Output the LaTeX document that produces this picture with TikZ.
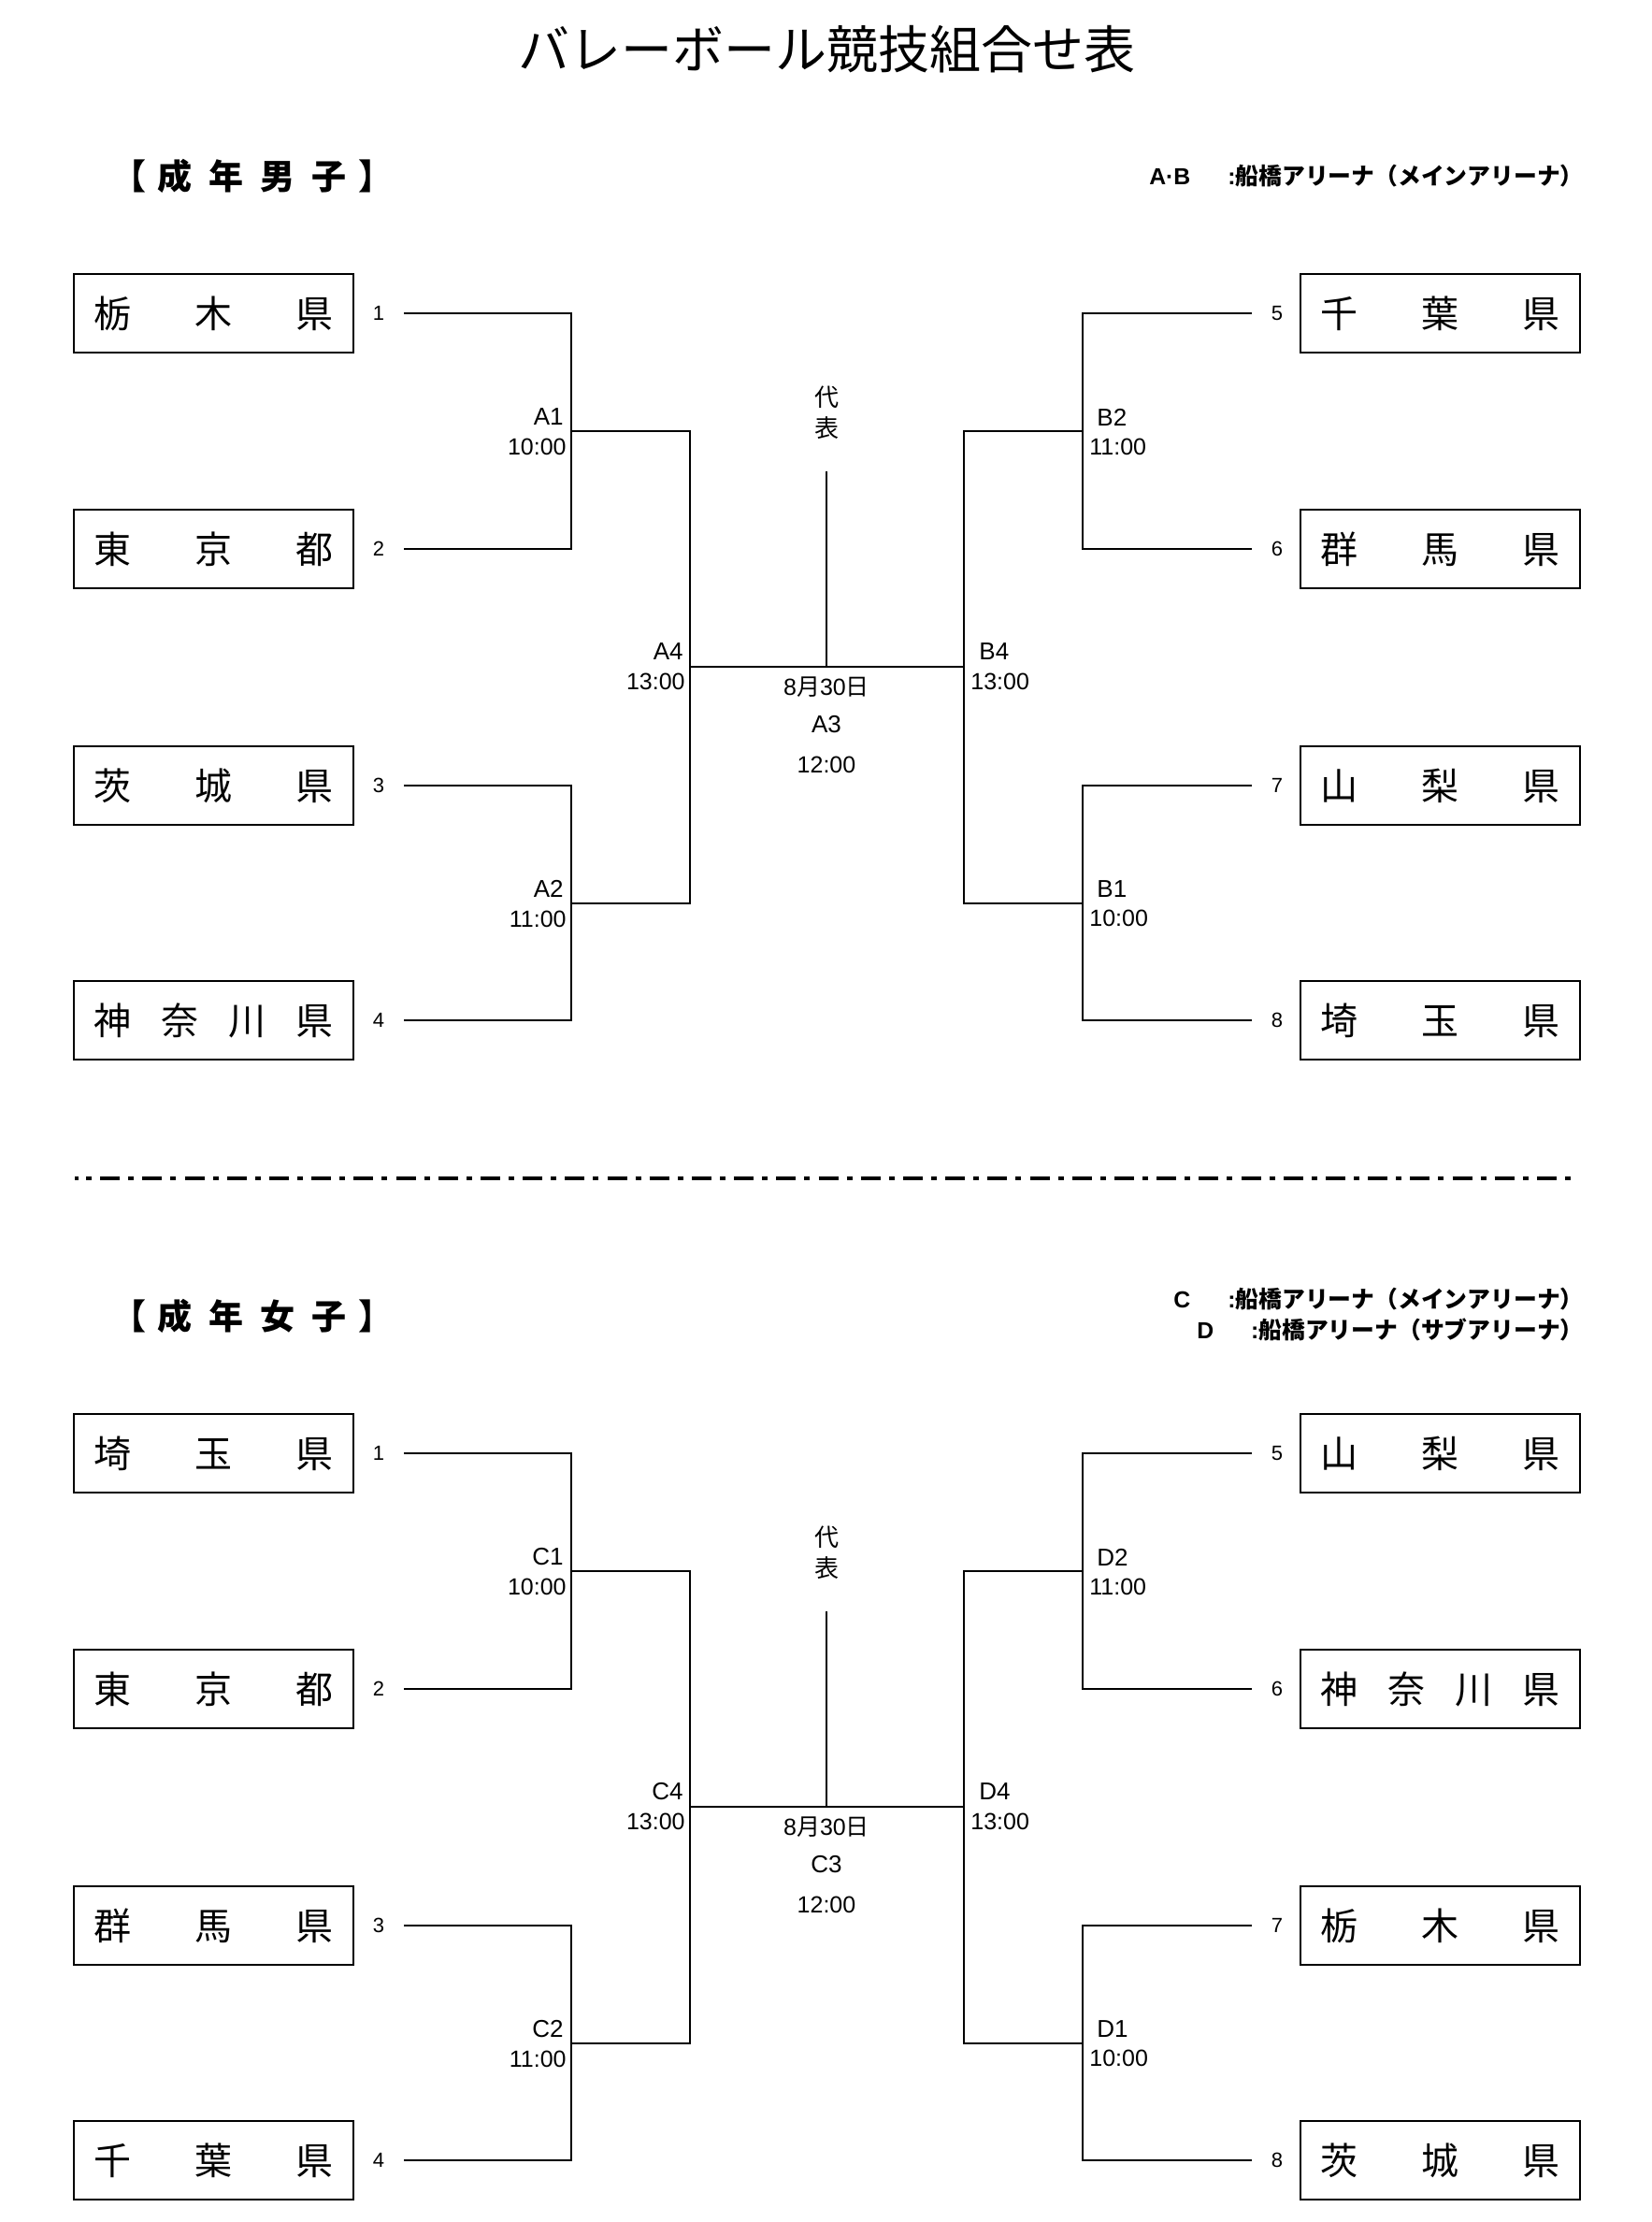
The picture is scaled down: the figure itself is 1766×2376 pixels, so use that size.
\documentclass[tikz,border=0pt]{standalone}
\usepackage{fontspec}
\setmainfont{Liberation Sans}
\newfontfamily\jp{Noto Sans CJK JP}
\newcommand\spread[1]{\makebox[128pt]{#1}}
\tikzset{
  teambox/.style={draw, line width=1pt, minimum width=149.5pt, minimum height=42pt, inner sep=0pt,
    font=\jp\fontsize{20pt}{24pt}\selectfont},
  seednum/.style={inner sep=0pt, font=\fontsize{11pt}{13pt}\selectfont},
  link/.style={line width=1pt},
  mlabel/.style={inner sep=0pt, font=\fontsize{13pt}{15pt}\selectfont},
  mtime/.style={inner sep=0pt, font=\fontsize{12.5pt}{15pt}\selectfont},
  cjksmall/.style={inner sep=0pt, font=\jp\fontsize{13pt}{15pt}\selectfont},
  titletext/.style={inner sep=0pt, font=\jp\fontsize{27.5pt}{33pt}\selectfont},
  hdr/.style={inner sep=0pt, font=\jp\bfseries\fontsize{18.5pt}{22pt}\selectfont},
  venue/.style={inner sep=0pt, anchor=east, font=\bfseries\fontsize{12.4pt}{15pt}\selectfont},
  sepline/.style={line width=2.25pt}
}
\newcommand\bracketsec[9]{%
\begin{scope}[name prefix=#1-]
  % team boxes
  \node[teambox] (t1) at (228.5,335) {\spread{#2}};
  \node[teambox] (t2) at (228.5,587) {\spread{#3}};
  \node[teambox] (t3) at (228.5,840) {\spread{#4}};
  \node[teambox] (t4) at (228.5,1091) {\spread{#5}};
  \node[teambox] (t5) at (1540,335) {\spread{#6}};
  \node[teambox] (t6) at (1540,587) {\spread{#7}};
  \node[teambox] (t7) at (1540,840) {\spread{#8}};
  \node[teambox] (t8) at (1540,1091) {\spread{#9}};
  % seed numbers
  \node[seednum] (n1) at (405,335) {1};
  \node[seednum] (n2) at (405,587) {2};
  \node[seednum] (n3) at (405,840) {3};
  \node[seednum] (n4) at (405,1091) {4};
  \node[seednum] (n5) at (1366,335) {5};
  \node[seednum] (n6) at (1366,587) {6};
  \node[seednum] (n7) at (1366,840) {7};
  \node[seednum] (n8) at (1366,1091) {8};
  % bracket points
  \coordinate (s1) at (432,335);
  \coordinate (s2) at (432,587);
  \coordinate (s3) at (432,840);
  \coordinate (s4) at (432,1091);
  \coordinate (s5) at (1339,335);
  \coordinate (s6) at (1339,587);
  \coordinate (s7) at (1339,840);
  \coordinate (s8) at (1339,1091);
  \coordinate (q1) at (611,461);
  \coordinate (q2) at (611,966);
  \coordinate (q3) at (1158,461);
  \coordinate (q4) at (1158,966);
  \coordinate (h1) at (738,713);
  \coordinate (h2) at (1031,713);
  \coordinate (fin) at (884,713);
  \coordinate (rep) at (884,504);
  \draw[link] (s1) -| (q1);
  \draw[link] (s2) -| (q1);
  \draw[link] (s3) -| (q2);
  \draw[link] (s4) -| (q2);
  \draw[link] (s5) -| (q3);
  \draw[link] (s6) -| (q3);
  \draw[link] (s7) -| (q4);
  \draw[link] (s8) -| (q4);
  \draw[link] (q1) -| (h1);
  \draw[link] (q2) -| (h1);
  \draw[link] (q3) -| (h2);
  \draw[link] (q4) -| (h2);
  \draw[link] (h1) -- (h2);
  \draw[link] (fin) -- (rep);
  % match labels
  \node[mlabel, anchor=east] (l1) at (603,446) {\Lt1};
  \node[mtime, anchor=east] (l1t) at (606,478) {10:00};
  \node[mlabel, anchor=east] (l2) at (603,950.5) {\Lt2};
  \node[mtime, anchor=east] (l2t) at (606,982.5) {11:00};
  \node[mlabel, anchor=east] (l4) at (731,697) {\Lt4};
  \node[mtime, anchor=east] (l4t) at (733,729) {13:00};
  \node[mlabel, anchor=west] (r4) at (1047,697) {\Rt4};
  \node[mtime, anchor=west] (r4t) at (1038,729) {13:00};
  \node[mlabel, anchor=west] (r2) at (1173,446) {\Rt2};
  \node[mtime, anchor=west] (r2t) at (1165,478) {11:00};
  \node[mlabel, anchor=west] (r1) at (1173,951) {\Rt1};
  \node[mtime, anchor=west] (r1t) at (1165,982) {10:00};
  % final
  \node[cjksmall] (dai) at (884,425) {代};
  \node[cjksmall] (hyo) at (884,458) {表};
  \node[mtime] (date) at (884,735) {8{\jp 月}30{\jp 日}};
  \node[mlabel] (fm) at (884,775) {\Lt3};
  \node[mtime] (ft) at (884,818) {12:00};
\end{scope}}
\begin{document}
\begin{tikzpicture}[x=0.5pt,y=-0.5pt]
  \fill[white] (0,0) rectangle (1766,2376);
  \useasboundingbox (0,0) rectangle (1766,2376);
  \node[titletext] (title) at (884,53) {バレーボール競技組合せ表};
  % men
  \node[hdr] (hm) at (270,188) {【\hspace{6.25pt}成\hspace{9pt}年\hspace{9pt}男\hspace{9pt}子\hspace{6.25pt}】};
  \node[venue] (vm) at (1694,188) {A·B\hspace{20pt}:{\jp 船橋アリーナ（メインアリーナ）}};
  \def\Lt{A}\def\Rt{B}
  \bracketsec{m}{栃\hfill 木\hfill 県}{東\hfill 京\hfill 都}{茨\hfill 城\hfill 県}{神\hfill 奈\hfill 川\hfill 県}{千\hfill 葉\hfill 県}{群\hfill 馬\hfill 県}{山\hfill 梨\hfill 県}{埼\hfill 玉\hfill 県}
  % separator
  \coordinate (sepa) at (80,1260);
  \coordinate (sepb) at (84,1260);
  \coordinate (sepc) at (92,1260);
  \coordinate (sepd) at (1681,1260);
  \draw[sepline] (sepa) -- (sepb);
  \draw[sepline, dash pattern=on 3pt off 4.55pt on 10.5pt off 4.55pt] (sepc) -- (sepd);
  % women
  \node[hdr] (hw) at (270,1407) {【\hspace{6.25pt}成\hspace{9pt}年\hspace{9pt}女\hspace{9pt}子\hspace{6.25pt}】};
  \node[venue] (vw1) at (1694,1389) {C\hspace{20pt}:{\jp 船橋アリーナ（メインアリーナ）}};
  \node[venue] (vw2) at (1694,1422) {D\hspace{20pt}:{\jp 船橋アリーナ（サブアリーナ）}};
  \begin{scope}[yshift=-609.5pt]
    \def\Lt{C}\def\Rt{D}
    \bracketsec{w}{埼\hfill 玉\hfill 県}{東\hfill 京\hfill 都}{群\hfill 馬\hfill 県}{千\hfill 葉\hfill 県}{山\hfill 梨\hfill 県}{神\hfill 奈\hfill 川\hfill 県}{栃\hfill 木\hfill 県}{茨\hfill 城\hfill 県}
  \end{scope}
\end{tikzpicture}
\end{document}
